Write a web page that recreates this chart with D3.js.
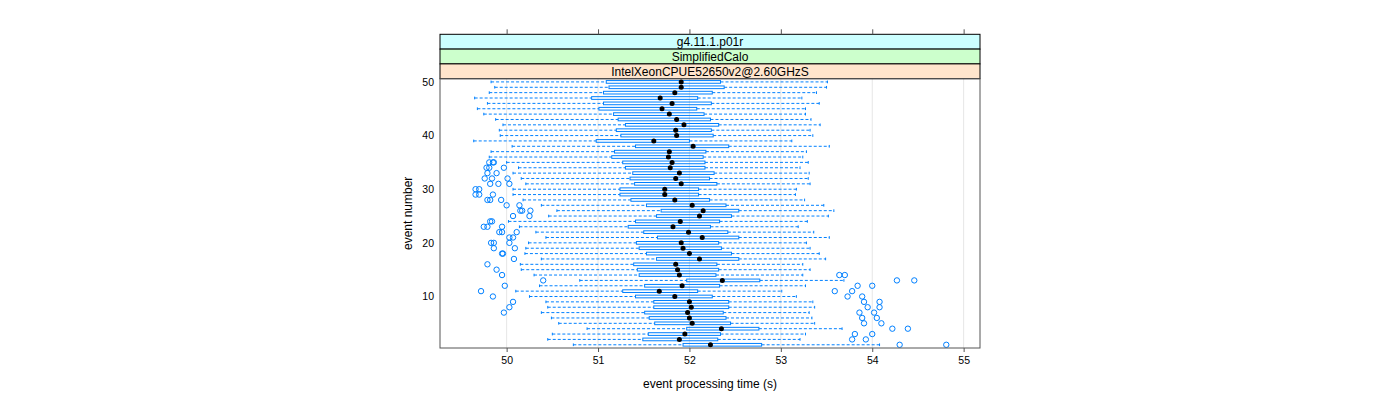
<!DOCTYPE html>
<html>
<head>
<meta charset="utf-8">
<script src="https://cdn.jsdelivr.net/npm/d3@7"></script>
<style>
  html, body { margin: 0; padding: 0; background: #ffffff; }
  svg { display: block; font-family: "Liberation Sans", Arial, Helvetica, sans-serif; }
</style>
</head>
<body>
<svg id="chart" width="1400" height="400"></svg>
<script>
// ---- data ----
const events = d3.range(1, 51);
const whiskerLow = [50.73,50.45,50.50,50.88,50.57,50.49,50.38,50.45,50.43,50.25,
  50.10,50.36,50.80,50.30,50.16,50.15,50.38,50.20,50.21,50.24,
  50.43,50.32,50.14,50.02,50.46,50.55,50.38,50.18,50.07,50.07,
  50.21,50.16,50.07,50.13,50.00,49.81,49.83,50.06,49.64,49.93,
  49.92,49.96,49.88,49.75,49.68,49.79,49.65,49.81,49.87,49.83];
const q1 = [51.93,51.49,51.55,51.97,51.62,51.56,51.51,51.61,51.61,51.41,
  51.27,51.51,51.97,51.45,51.43,51.39,51.64,51.53,51.45,51.42,
  51.65,51.50,51.33,51.41,51.64,51.69,51.53,51.36,51.24,51.24,
  51.40,51.35,51.38,51.30,51.27,51.15,51.18,51.41,50.98,51.25,
  51.20,51.30,51.22,51.17,51.01,51.06,50.93,51.06,51.12,51.09];
const median = [52.23,51.89,51.95,52.35,52.03,52.00,51.98,52.02,52.00,51.84,
  51.67,51.92,52.36,51.89,51.87,51.85,52.11,52.00,51.93,51.91,
  52.14,51.99,51.82,51.90,52.11,52.15,52.03,51.84,51.73,51.73,
  51.91,51.85,51.89,51.79,51.81,51.77,51.78,52.04,51.61,51.86,
  51.85,51.94,51.86,51.78,51.70,51.81,51.68,51.84,51.91,51.91];
const q3 = [52.79,52.31,52.34,52.76,52.45,52.40,52.37,52.43,52.43,52.25,
  52.09,52.33,52.77,52.29,52.32,52.30,52.54,52.46,52.35,52.32,
  52.54,52.42,52.23,52.33,52.46,52.54,52.40,52.22,52.10,52.10,
  52.30,52.22,52.27,52.17,52.17,52.15,52.18,52.43,52.00,52.26,
  52.24,52.32,52.23,52.16,52.08,52.24,52.09,52.25,52.38,52.34];
const whiskerHigh = [54.08,53.21,53.27,53.67,53.37,53.34,53.31,53.37,53.35,53.17,
  53.01,53.27,53.69,53.24,53.32,53.24,53.49,53.42,53.32,53.28,
  53.53,53.36,53.19,53.29,53.52,53.58,53.47,53.26,53.16,53.17,
  53.32,53.30,53.31,53.21,53.30,53.24,53.28,53.53,53.12,53.35,
  53.32,53.43,53.33,53.27,53.27,53.42,53.23,53.39,53.50,53.51];
const outliers = [
  [54.30,54.81],[53.78,53.93],[53.81,54.00],[54.22,54.39],[53.91,54.10],
  [53.89,54.05],[49.97,53.86,54.02],[50.03,53.95,54.08],[50.07,53.91,54.08],[49.85,53.73,53.89],
  [49.72,53.59,53.78],[49.98,53.84,54.00],[50.40,54.27,54.46],[49.95,53.64,53.70],[49.89],
  [49.79],[50.08],[49.95,49.96],[49.86,50.09],[49.83,49.86,50.03],
  [50.03,50.07],[49.92,49.95,50.11],[49.75,49.79,49.95],[49.82,49.84],[50.07,50.25],
  [50.15,50.17,50.26],[50.00,50.14],[49.79,49.82,49.94],[49.66,49.70,49.85],[49.66,49.70],
  [49.82,49.91,50.03],[49.76,49.84,50.01],[49.79,49.89],[49.78,49.81,49.97],[49.81,49.85,49.86],
  [],[],[],[],[],[],[],[],[],[],[],[],[],[],[]
];
const xTicks = [50, 51, 52, 53, 54, 55];
const yTicks = [10, 20, 30, 40, 50];
const stripLabels = ["g4.11.1.p01r", "SimplifiedCalo", "IntelXeonCPUE52650v2@2.60GHzS"];
const stripColors = ["#ccffff", "#ccffcc", "#ffe5cc"];
const xLabel = "event processing time (s)";
const yLabel = "event number";

(function draw() {
  const svg = d3.select("#chart");
  const pL = 440, pR = 980, pT = 78.7, pB = 348;
  const stripTop = 34.3, stripH = (pT - stripTop) / 3;
  const blue = "#0080ff";
  const font = "Liberation Sans, Arial, sans-serif";

  const x = d3.scaleLinear().domain([49.271, 55.179]).range([pL, pR]);
  const y = d3.scaleLinear().domain([0.4, 50.6]).range([pB, pT]);
  const unit = Math.abs(y(1) - y(0));
  const boxH = unit * 0.5;

  const rows = events.map((e, i) => ({
    e, lo: whiskerLow[i], q1: q1[i], med: median[i], q3: q3[i], hi: whiskerHigh[i], out: outliers[i]
  }));

  // grid
  svg.append("g").selectAll("line").data(xTicks).join("line")
    .attr("x1", d => x(d)).attr("x2", d => x(d))
    .attr("y1", pT).attr("y2", pB)
    .attr("stroke", "#e6e6e6").attr("stroke-width", 1);

  // whiskers
  const wg = svg.append("g").attr("stroke", blue).attr("stroke-width", 1)
    .attr("stroke-dasharray", "3,2").attr("fill", "none");
  wg.selectAll("line.lw").data(rows).join("line").attr("class", "lw")
    .attr("x1", d => x(d.lo)).attr("x2", d => x(d.q1))
    .attr("y1", d => y(d.e)).attr("y2", d => y(d.e));
  wg.selectAll("line.hw").data(rows).join("line").attr("class", "hw")
    .attr("x1", d => x(d.q3)).attr("x2", d => x(d.hi))
    .attr("y1", d => y(d.e)).attr("y2", d => y(d.e));
  const sg = svg.append("g").attr("stroke", blue).attr("stroke-width", 1);
  sg.selectAll("line.sl").data(rows).join("line").attr("class", "sl")
    .attr("x1", d => x(d.lo)).attr("x2", d => x(d.lo))
    .attr("y1", d => y(d.e) - boxH / 2).attr("y2", d => y(d.e) + boxH / 2);
  sg.selectAll("line.sh").data(rows).join("line").attr("class", "sh")
    .attr("x1", d => x(d.hi)).attr("x2", d => x(d.hi))
    .attr("y1", d => y(d.e) - boxH / 2).attr("y2", d => y(d.e) + boxH / 2);

  // boxes
  svg.append("g").selectAll("rect").data(rows).join("rect")
    .attr("x", d => x(d.q1)).attr("width", d => x(d.q3) - x(d.q1))
    .attr("y", d => y(d.e) - boxH / 2).attr("height", boxH)
    .attr("fill", "none").attr("stroke", blue).attr("stroke-width", 1);

  // medians
  svg.append("g").selectAll("circle").data(rows).join("circle")
    .attr("cx", d => x(d.med)).attr("cy", d => y(d.e)).attr("r", 2.5)
    .attr("fill", "#000");

  // outliers
  const outPts = rows.flatMap(d => d.out.map(v => ({ e: d.e, v })));
  svg.append("g").selectAll("circle").data(outPts).join("circle")
    .attr("cx", d => x(d.v)).attr("cy", d => y(d.e)).attr("r", 2.7)
    .attr("fill", "none").attr("stroke", blue).attr("stroke-width", 1);

  // strips
  stripLabels.forEach((lab, i) => {
    const sy = stripTop + i * stripH;
    svg.append("rect").attr("x", pL).attr("y", sy).attr("width", pR - pL).attr("height", stripH)
      .attr("fill", stripColors[i]).attr("stroke", "#000").attr("stroke-width", 1);
    svg.append("text").attr("x", (pL + pR) / 2).attr("y", sy + stripH / 2 + 4.3)
      .attr("text-anchor", "middle").attr("font-size", 12).attr("fill", "#000").text(lab);
  });

  // panel frame
  svg.append("rect").attr("x", pL).attr("y", pT).attr("width", pR - pL).attr("height", pB - pT)
    .attr("fill", "none").attr("stroke", "#555").attr("stroke-width", 1);

  // axes
  const xAxis = d3.axisBottom(x).tickValues(xTicks).tickFormat(d3.format("d")).tickSize(4).tickPadding(5);
  const gx = svg.append("g").attr("transform", `translate(0,${pB})`).call(xAxis);
  gx.select(".domain").remove();
  gx.selectAll("line").attr("stroke", "#555");
  gx.selectAll("text").attr("font-size", 10.5).attr("fill", "#000").attr("font-family", font);

  const xTop = d3.axisTop(x).tickValues(xTicks).tickFormat("").tickSize(5);
  const gt = svg.append("g").attr("transform", `translate(0,${stripTop})`).call(xTop);
  gt.select(".domain").remove();
  gt.selectAll("line").attr("stroke", "#555");

  const yAxis = d3.axisLeft(y).tickValues(yTicks).tickFormat(d3.format("d")).tickSize(0).tickPadding(6);
  const gy = svg.append("g").attr("transform", `translate(${pL},0)`).call(yAxis);
  gy.select(".domain").remove();
  gy.selectAll("text").attr("font-size", 10.5).attr("fill", "#000").attr("font-family", font);

  // axis labels
  svg.append("text").attr("x", (pL + pR) / 2).attr("y", 388)
    .attr("text-anchor", "middle").attr("font-size", 12).attr("fill", "#000").text(xLabel);
  svg.append("text").attr("transform", `translate(412,${(pT + pB) / 2}) rotate(-90)`)
    .attr("text-anchor", "middle").attr("font-size", 12).attr("fill", "#000").text(yLabel);
})();
</script>
</body>
</html>
